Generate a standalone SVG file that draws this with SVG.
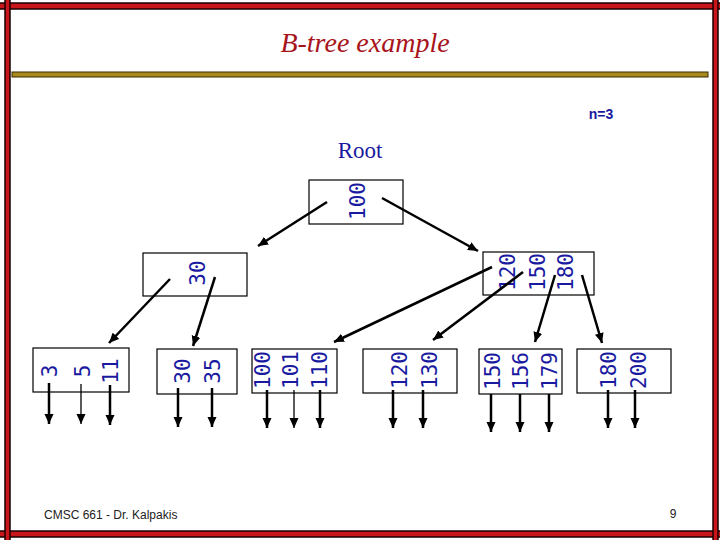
<svg xmlns="http://www.w3.org/2000/svg" width="720" height="540" viewBox="0 0 720 540">
<style>
.frame{fill:#c8161c;stroke:#1a0000;stroke-width:1.5}
.box{fill:#fff;stroke:#000;stroke-width:1.2}
.k{font-family:"DejaVu Sans Mono","Liberation Mono",monospace;font-size:21px;fill:#1a1aa0;text-anchor:middle}
.c{stroke:#000;stroke-width:2.5;fill:none;marker-end:url(#ah)}
.p{stroke:#000;stroke-width:2.5;fill:none;marker-end:url(#ah)}
.t{stroke:#000;stroke-width:1.3;fill:none;marker-end:url(#ah)}
</style>
<defs>
<marker id="ah" markerUnits="userSpaceOnUse" markerWidth="11" markerHeight="10" refX="10" refY="5" orient="auto">
<path d="M0,0.5 L10,5 L0,9.5 z" fill="#000"/>
</marker>
</defs>
<rect width="720" height="540" fill="#fff"/>
<g id="frame">
<rect class="frame" x="-2" y="3" width="724" height="6"/>
<rect class="frame" x="-2" y="531" width="724" height="6"/>
<rect class="frame" x="5" y="-2" width="5" height="544"/>
<rect class="frame" x="713" y="-2" width="5" height="544"/>
<rect x="12" y="72" width="696" height="5" fill="#a88a1e" stroke="#3a2a00" stroke-width="1"/>
</g>
<text x="365" y="52" font-family="Liberation Serif, serif" font-style="italic" font-size="28" fill="#a8141c" text-anchor="middle">B-tree example</text>
<text x="601" y="119" font-family="Liberation Sans, sans-serif" font-weight="bold" font-size="14" fill="#1a1aa0" text-anchor="middle">n=3</text>
<text x="360" y="158" font-family="Liberation Serif, serif" font-size="23" fill="#1a1aa0" text-anchor="middle">Root</text>
<text x="44" y="519" font-family="Liberation Sans, sans-serif" font-size="12" fill="#222">CMSC 661 - Dr. Kalpakis</text>
<text x="673" y="518" font-family="Liberation Sans, sans-serif" font-size="12" fill="#222" text-anchor="middle">9</text>

<g id="root">
<rect class="box" x="309" y="180" width="94" height="44"/>
<text class="k" transform="translate(365,201) rotate(-90)">100</text>
</g>
<g id="n30">
<rect class="box" x="143" y="253" width="104" height="43"/>
<text class="k" transform="translate(205,273) rotate(-90)">30</text>
</g>
<g id="n120">
<rect class="box" x="483" y="252" width="111" height="43"/>
<text class="k" transform="translate(515,272) rotate(-90)">120</text>
<text class="k" transform="translate(545,272) rotate(-90)">150</text>
<text class="k" transform="translate(573,272) rotate(-90)">180</text>
</g>
<g id="leaf1">
<rect class="box" x="33" y="348" width="96" height="44"/>
<text class="k" transform="translate(57,371) rotate(-90)">3</text>
<text class="k" transform="translate(90,371) rotate(-90)">5</text>
<text class="k" transform="translate(118,371) rotate(-90)">11</text>
</g>
<g id="leaf2">
<rect class="box" x="157" y="349" width="80" height="45"/>
<text class="k" transform="translate(190,371) rotate(-90)">30</text>
<text class="k" transform="translate(220,371) rotate(-90)">35</text>
</g>
<g id="leaf3">
<rect class="box" x="252" y="349" width="85" height="44"/>
<text class="k" transform="translate(270,370) rotate(-90)">100</text>
<text class="k" transform="translate(298,370) rotate(-90)">101</text>
<text class="k" transform="translate(327,370) rotate(-90)">110</text>
</g>
<g id="leaf4">
<rect class="box" x="363" y="349" width="94" height="44"/>
<text class="k" transform="translate(407,370) rotate(-90)">120</text>
<text class="k" transform="translate(437,370) rotate(-90)">130</text>
</g>
<g id="leaf5">
<rect class="box" x="479" y="349" width="83" height="45"/>
<text class="k" transform="translate(500,371) rotate(-90)">150</text>
<text class="k" transform="translate(528,371) rotate(-90)">156</text>
<text class="k" transform="translate(557,371) rotate(-90)">179</text>
</g>
<g id="leaf6">
<rect class="box" x="577" y="349" width="94" height="44"/>
<text class="k" transform="translate(616,370) rotate(-90)">180</text>
<text class="k" transform="translate(646,370) rotate(-90)">200</text>
</g>

<g id="connectors">
<line class="c" x1="327" y1="202" x2="258" y2="246"/>
<line class="c" x1="382" y1="198" x2="478" y2="251"/>
<line class="c" x1="170" y1="279" x2="109" y2="343"/>
<line class="c" x1="215" y1="277" x2="193" y2="346"/>
<line class="c" x1="492" y1="267" x2="334" y2="342"/>
<line class="c" x1="523" y1="272" x2="433" y2="340"/>
<line class="c" x1="555" y1="275" x2="535" y2="342"/>
<line class="c" x1="582" y1="275" x2="602" y2="343"/>

<line class="p" x1="49" y1="383" x2="49" y2="424"/>
<line class="t" x1="81" y1="384" x2="81" y2="424"/>
<line class="p" x1="110" y1="385" x2="110" y2="425"/>
<line class="p" x1="178" y1="388" x2="178" y2="427"/>
<line class="p" x1="212" y1="388" x2="212" y2="427"/>
<line class="p" x1="267" y1="390" x2="267" y2="428"/>
<line class="t" x1="294" y1="390" x2="294" y2="428"/>
<line class="p" x1="320" y1="390" x2="320" y2="428"/>
<line class="p" x1="393" y1="390" x2="393" y2="428"/>
<line class="p" x1="423" y1="390" x2="423" y2="428"/>
<line class="p" x1="491" y1="394" x2="491" y2="432"/>
<line class="p" x1="520" y1="394" x2="520" y2="432"/>
<line class="p" x1="549" y1="394" x2="549" y2="432"/>
<line class="p" x1="608" y1="390" x2="608" y2="428"/>
<line class="p" x1="635" y1="390" x2="635" y2="428"/>
</g>
</svg>
